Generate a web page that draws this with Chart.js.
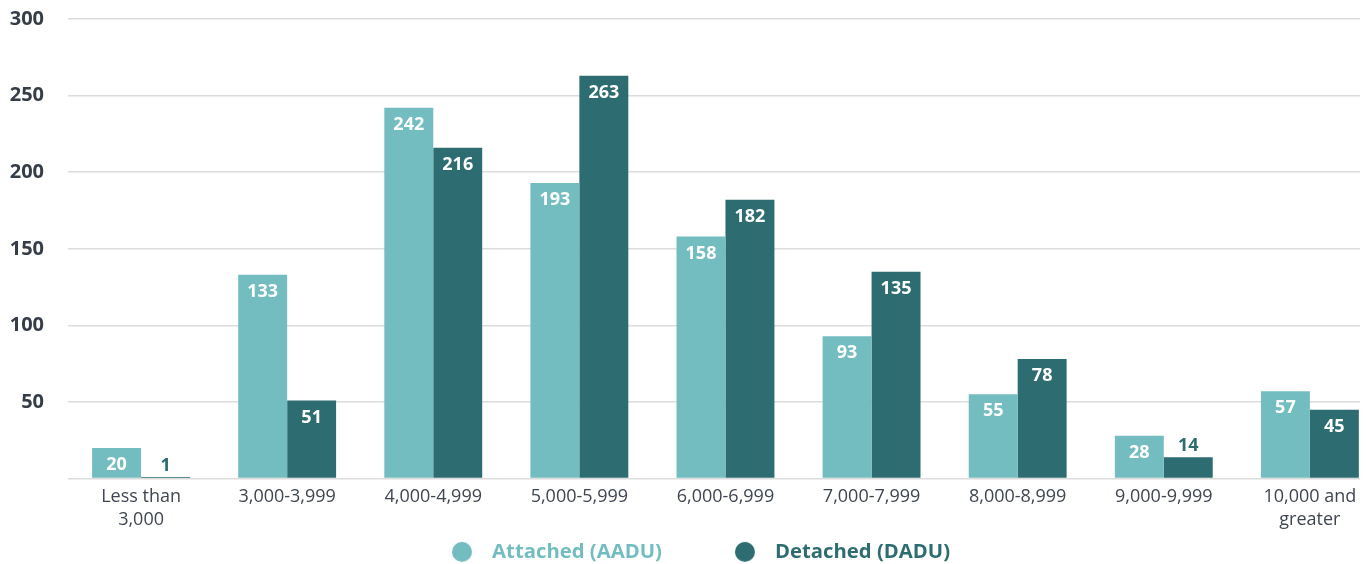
<!DOCTYPE html>
<html>
<head>
<meta charset="utf-8">
<script src="https://cdn.jsdelivr.net/npm/chart.js@4"></script>
<style>
  html, body { margin: 0; padding: 0; background: #fff; }
  #wrap { width: 1367px; height: 564px; }
</style>
</head>
<body>
<div id="wrap"><canvas id="adduChart" width="1367" height="564"></canvas></div>
<script>
// Lot size buckets (sq ft)
const categories = [
  ['Less than', '3,000'], '3,000-3,999', '4,000-4,999', '5,000-5,999', '6,000-6,999',
  '7,000-7,999', '8,000-8,999', '9,000-9,999', ['10,000 and', 'greater']
];
const attached = [20, 133, 242, 193, 158, 93, 55, 28, 57];
const detached = [1, 51, 216, 263, 182, 135, 78, 14, 45];
const seriesNames = ['Attached (AADU)', 'Detached (DADU)'];
const yTicks = [0, 50, 100, 150, 200, 250, 300];

const LIGHT = '#73bdc1';
const DARK = '#2d6d72';
const FONT = '"Open Sans", "Noto Sans", sans-serif';

// circle marker for the legend, drawn on the right side of a wide box
function legendDot(color) {
  const c = document.createElement('canvas');
  c.width = 100;
  c.height = 22;
  const g = c.getContext('2d');
  g.fillStyle = color;
  g.beginPath();
  g.arc(80, 11, 10, 0, Math.PI * 2);
  g.fill();
  return c;
}

const barLabels = {
  id: 'barLabels',
  afterLayout(chart) {
    // nudge the legend so it sits where the original one does
    chart.legend.left -= 18;
    chart.legend.right -= 18;
  },
  // value labels on top of / inside the bars
  afterDatasetsDraw(chart) {
    const ctx = chart.ctx;
    ctx.save();
    ctx.font = 'bold 18px ' + FONT;
    ctx.textAlign = 'center';
    ctx.textBaseline = 'middle';
    chart.data.datasets.forEach((ds, i) => {
      chart.getDatasetMeta(i).data.forEach((bar, j) => {
        const v = ds.data[j];
        const inside = v >= 20;
        ctx.fillStyle = inside ? '#ffffff' : ds.backgroundColor;
        ctx.fillText(v, bar.x, inside ? bar.y + 17 : bar.y - 11);
      });
    });
    ctx.restore();
  }
};

const ctx = document.getElementById('adduChart').getContext('2d');
new Chart(ctx, {
  type: 'bar',
  data: {
    labels: categories,
    datasets: [
      { label: seriesNames[0], data: attached, backgroundColor: LIGHT },
      { label: seriesNames[1], data: detached, backgroundColor: DARK }
    ]
  },
  options: {
    responsive: false,
    animation: false,
    layout: { padding: { left: 8, right: 7, top: 0, bottom: -8 } },
    datasets: {
      bar: { categoryPercentage: 0.67, barPercentage: 1.0 }
    },
    plugins: {
      tooltip: { enabled: false },
      legend: {
        position: 'bottom',
        labels: {
          usePointStyle: true,
          pointStyleWidth: 100,
          boxHeight: 20,
          padding: 3,
          font: { family: FONT, size: 20.3, weight: 'bold', lineHeight: 1 },
          generateLabels(chart) {
            return chart.data.datasets.map((ds, i) => ({
              text: ds.label,
              fillStyle: ds.backgroundColor,
              strokeStyle: ds.backgroundColor,
              fontColor: ds.backgroundColor,
              lineWidth: 0,
              pointStyle: legendDot(ds.backgroundColor),
              hidden: false,
              datasetIndex: i
            }));
          }
        }
      }
    },
    scales: {
      x: {
        grid: { display: false, drawTicks: false },
        border: { display: false },
        afterBuildTicks(axis) {
          // the original's last group runs up to the plot edge, so the
          // categories are a little wider than width / 9
          axis._valueRange = categories.length - 0.157;
        },
        ticks: {
          color: '#3f4651',
          padding: 7,
          maxRotation: 0,
          autoSkip: false,
          font: { family: FONT, size: 18, lineHeight: 1.28 }
        }
      },
      y: {
        min: yTicks[0],
        max: yTicks[yTicks.length - 1],
        afterBuildTicks(axis) {
          axis.ticks = yTicks.map(v => ({ value: v }));
        },
        afterFit(axis) {
          axis.width = 60;
          axis.paddingTop = 19;
          axis.paddingBottom = 0;
        },
        grid: { color: '#dcdcdc', lineWidth: 1.5, drawTicks: false },
        border: { display: false },
        ticks: {
          color: '#353d48',
          padding: 24,
          font: { family: FONT, size: 20, weight: 'bold' },
          callback: v => (v === 0 ? '' : v)
        }
      }
    }
  },
  plugins: [barLabels]
});
</script>
</body>
</html>
